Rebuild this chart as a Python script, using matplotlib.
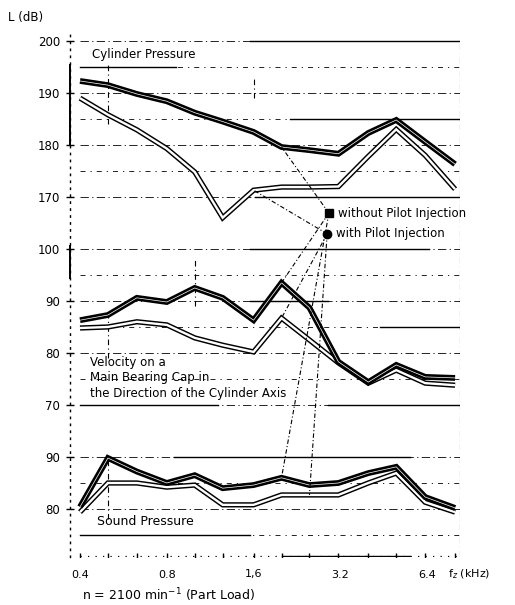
import numpy as np
import matplotlib.pyplot as plt

plt.rcParams['font.family'] = ['DejaVu Sans']

# third-octave band centre frequencies, kHz
freq_khz = [0.4, 0.5, 0.63, 0.8, 1.0, 1.25, 1.6, 2.0, 2.5, 3.15, 4.0, 5.0, 6.3, 8.0]

# cylinder pressure level, dB
cyl_without = [192.3, 191.5, 189.8, 188.4, 186.2, 184.5, 182.5, 179.6, 179.0, 178.3, 182.3, 184.8, 180.6, 176.3]
cyl_with = [189.0, 185.8, 182.9, 179.3, 174.8, 166.0, 171.3, 171.9, 171.9, 172.0, 177.8, 183.0, 178.0, 171.5]

# velocity level on the main bearing cap, dB
vel_without = [86.3, 87.3, 90.6, 89.8, 92.5, 90.6, 86.3, 93.5, 88.7, 78.3, 74.4, 77.7, 75.4, 75.2]
vel_with = [84.8, 85.0, 86.0, 85.4, 82.9, 81.5, 80.2, 86.7, 82.5, 78.1, 74.2, 76.7, 74.2, 73.8]

# sound pressure level, dB
snd_without = [80.4, 89.8, 87.2, 85.0, 86.5, 84.0, 84.6, 86.0, 84.6, 85.0, 86.9, 88.1, 82.3, 80.2]
snd_with = [79.4, 85.0, 85.0, 84.2, 84.6, 80.8, 80.8, 82.7, 82.7, 82.7, 85.0, 86.9, 81.3, 79.4]

xtick_khz = [0.4, 0.8, 1.6, 3.2, 6.4]
xtick_labels = ['0.4', '0.8', '1,6', '3.2', '6.4']
ytick_labels = ['200', '190', '180', '170', '100', '90', '80', '70', '90', '80']

# the three groups share one axis; velocity and sound are shifted up
vel_shift = 60
snd_shift = 30
ytick_pos = [200, 190, 180, 170, 100 + vel_shift, 90 + vel_shift, 80 + vel_shift,
             70 + vel_shift, 90 + snd_shift, 80 + snd_shift]

W, H = 515, 605
fig = plt.figure(figsize=(W / 100, H / 100), dpi=100)
ax = fig.add_axes([70 / W, 1 - 557 / H, 390 / W, 527 / H])
ax.set_xscale('log')
xmin, xmax = 0.3693, 8.32
ax.set_xlim(xmin, xmax)
ax.set_ylim(100.77, 202.1)

for s in ['top', 'right', 'bottom']:
    ax.spines[s].set_visible(False)
ax.spines['left'].set_linestyle((0, (1, 4)))
ax.spines['left'].set_linewidth(1.0)
ax.plot([xmin, xmin], [180, 195.3], color='black', lw=1.4, clip_on=False)
ax.plot([xmin, xmin], [154.5, 160.5], color='black', lw=1.4, clip_on=False)

ax.set_yticks(ytick_pos)
ax.set_yticklabels(ytick_labels, fontsize=8.5)
ax.tick_params(axis='y', direction='inout', length=6, width=1, pad=4)
ax.set_xticks(xtick_khz)
ax.set_xticklabels(xtick_labels, fontsize=8)
ax.xaxis.set_minor_locator(plt.NullLocator())
ax.tick_params(axis='x', length=0, pad=9)

# dash-dot reference lines every 5 dB
for y in [200, 195, 190, 185, 180, 175, 170, 160, 155, 150, 145, 140, 135, 130,
          120, 115, 110, 105]:
    style = (0, (10, 4, 1.5, 4)) if y % 10 == 0 else (0, (6, 6, 1.5, 6))
    ax.plot([0.4, xmax], [y, y], color='black', lw=0.6, ls=style)

# solid stretches of the reference lines
for y, fa, fb in [(200, 1.55, xmax), (195, 0.4, 0.86), (185, 2.14, xmax),
                  (170, 1.62, xmax), (160, 1.55, 6.5), (150, 1.55, 2.9),
                  (145, 4.4, xmax), (130, 0.4, 1.2), (130, 2.9, xmax),
                  (120, 0.85, 5.6), (105, 0.4, 1.55), (100.9, 2.0, 5.6)]:
    ax.plot([fa, fb], [y, y], color='black', lw=1.0)

# bottom scale with band marks
ax.plot([0.4, xmax], [100.9, 100.9], color='black', lw=0.9, ls=(0, (1, 5)))
ax.plot(freq_khz, [100.9] * len(freq_khz), ls='none', marker='|', ms=4,
        color='black', mew=1.0)

# vertical dash-dot frame lines
for fx, ya, yb in [(xmax, 101, 200), (0.5, 184, 195.5), (0.5, 139, 148),
                   (0.5, 108, 120), (1.0, 149, 158), (1.6, 189, 193)]:
    ax.plot([fx, fx], [ya, yb], color='black', lw=0.8, ls=(0, (5, 3, 1, 3)))


def trace(y, core, width=3.8):
    ax.plot(freq_khz, y, color='black', lw=width, solid_joinstyle='miter',
            solid_capstyle='butt')
    ax.plot(freq_khz, y, color='white', lw=core, solid_joinstyle='miter',
            solid_capstyle='butt')


vel_without_pos = np.array(vel_without) + vel_shift
vel_with_pos = np.array(vel_with) + vel_shift
snd_without_pos = np.array(snd_without) + snd_shift
snd_with_pos = np.array(snd_with) + snd_shift

trace(cyl_with, 1.7)
trace(cyl_without, 0.5, 4.2)
trace(vel_with_pos, 1.7)
trace(vel_without_pos, 0.5, 4.2)
trace(snd_with_pos, 1.7)
trace(snd_without_pos, 0.5, 4.2)

# key with leader lines to the curves
key_without = (2.92, 166.9)
key_with = (2.88, 162.9)
for (kx, ky), targets in [
        (key_without, [(freq_khz[7], cyl_without[7]), (freq_khz[7], vel_without_pos[7]),
                       (freq_khz[7], snd_without_pos[7])]),
        (key_with, [(freq_khz[6], cyl_with[6]), (freq_khz[7], vel_with_pos[7]),
                    (freq_khz[8], snd_with_pos[8])])]:
    for tx, ty in targets:
        ax.plot([kx, tx], [ky, ty], color='black', lw=0.8, ls=(0, (4, 2, 1, 2)))

ax.plot(*key_without, marker='s', ms=5.5, color='black', ls='none')
ax.plot(*key_with, marker='o', ms=6, color='black', ls='none')
ax.text(3.14, key_without[1], 'without Pilot Injection', fontsize=8.5, va='center')
ax.text(3.10, key_with[1], 'with Pilot Injection', fontsize=8.5, va='center')

ax.text(0.44, 197.3, 'Cylinder Pressure', fontsize=8.5, va='center')
ax.text(0.433, 135.2, 'Velocity on a\nMain Bearing Cap in\nthe Direction of the Cylinder Axis',
        fontsize=8.5, va='center', linespacing=1.25)
ax.text(0.458, 107.5, 'Sound Pressure', fontsize=9, va='center')

fig.text(8 / W, 1 - 17 / H, 'L (dB)', fontsize=8.5, va='center')
fig.text(448 / W, 1 - 574 / H, 'f$_z$ (kHz)', fontsize=8, va='center')
fig.text(82 / W, 1 - 595 / H, 'n = 2100 min$^{-1}$ (Part Load)', fontsize=9, va='center')

fig.savefig('out.png', dpi=100)
